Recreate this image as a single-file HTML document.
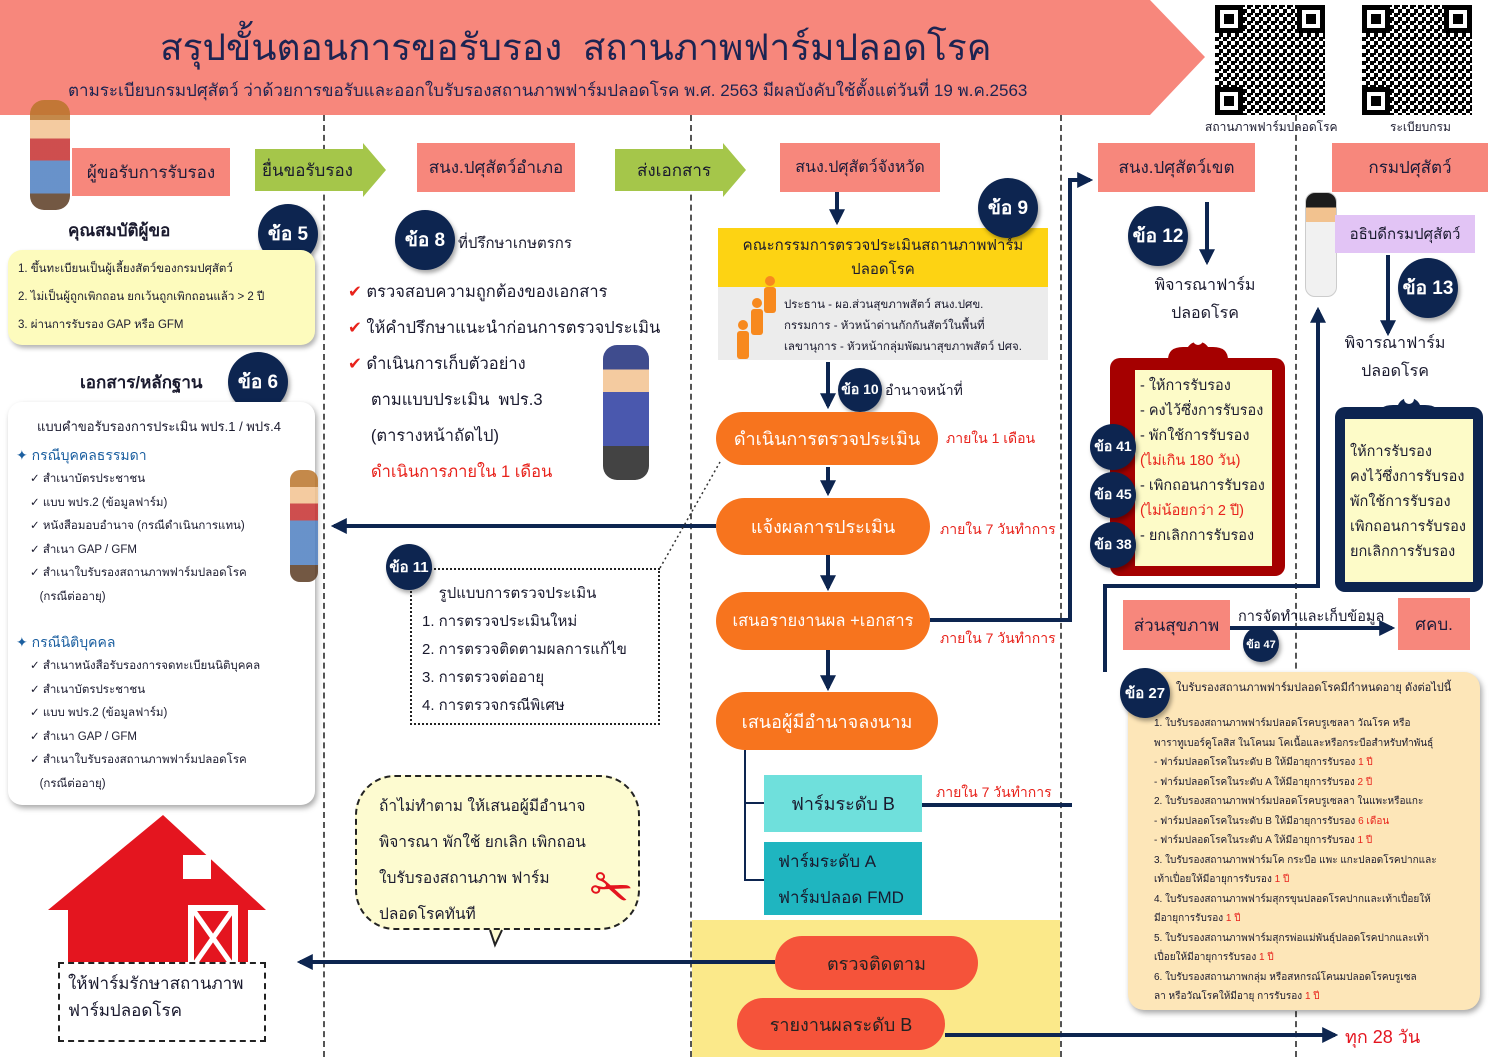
<!DOCTYPE html>
<html><head><meta charset="utf-8">
<style>
*{margin:0;padding:0;box-sizing:border-box}
body{width:1500px;height:1057px;position:relative;overflow:hidden;background:#fff;font-family:"Liberation Sans","DejaVu Sans",sans-serif;color:#1a1a2e}
.a{position:absolute;white-space:nowrap}
.c{display:flex;align-items:center;justify-content:center;text-align:center}
.sal{background:#f7877c;color:#1c1c3a;font-size:17px}
.circ{position:absolute;border-radius:50%;background:#0d2550;color:#fff;font-weight:bold;display:flex;align-items:center;justify-content:center;box-shadow:2px 3px 4px rgba(0,0,0,.35);white-space:nowrap}
.pill{position:absolute;border-radius:30px;background:#f7741e;color:#fff;font-size:18px;display:flex;align-items:center;justify-content:center;white-space:nowrap}
.red{color:#e8231c}
.vd{position:absolute;top:115px;height:942px;border-left:2px dashed #555}
.sm{font-size:11.5px;line-height:23.5px}
</style></head><body>
<svg class="a" style="left:0;top:0" width="1500" height="1057">
<polygon points="0,0 1150,0 1205,57 1150,115 0,115" fill="#f7877c"/>
</svg>
<div class="a" style="left:160px;top:18px;font-size:37px;color:#1c2452">สรุปขั้นตอนการขอรับรอง&nbsp; สถานภาพฟาร์มปลอดโรค</div>
<div class="a" style="left:68px;top:77px;font-size:17px;color:#1c2452">ตามระเบียบกรมปศุสัตว์ ว่าด้วยการขอรับและออกใบรับรองสถานภาพฟาร์มปลอดโรค พ.ศ. 2563 มีผลบังคับใช้ตั้งแต่วันที่ 19 พ.ค.2563</div>
<svg class="a" style="left:1215px;top:5px" width="110" height="110"><defs><pattern id="q" width="8" height="8" patternUnits="userSpaceOnUse"><rect width="8" height="8" fill="#fff"/><rect width="4" height="4" fill="#000"/><rect x="4" y="4" width="4" height="4" fill="#000"/><rect x="4" y="0" width="2" height="2" fill="#000"/></pattern></defs><rect width="110" height="110" fill="url(#q)"/><g fill="#000"><rect x="0" y="0" width="28" height="28"/><rect x="82" y="0" width="28" height="28"/><rect x="0" y="82" width="28" height="28"/></g><g fill="#fff"><rect x="5" y="5" width="18" height="18"/><rect x="87" y="5" width="18" height="18"/><rect x="5" y="87" width="18" height="18"/></g><g fill="#000"><rect x="9" y="9" width="10" height="10"/><rect x="91" y="9" width="10" height="10"/><rect x="9" y="91" width="10" height="10"/></g></svg>
<svg class="a" style="left:1362px;top:5px" width="110" height="110"><rect width="110" height="110" fill="url(#q)"/><g fill="#000"><rect x="0" y="0" width="28" height="28"/><rect x="82" y="0" width="28" height="28"/><rect x="0" y="82" width="28" height="28"/></g><g fill="#fff"><rect x="5" y="5" width="18" height="18"/><rect x="87" y="5" width="18" height="18"/><rect x="5" y="87" width="18" height="18"/></g><g fill="#000"><rect x="9" y="9" width="10" height="10"/><rect x="91" y="9" width="10" height="10"/><rect x="9" y="91" width="10" height="10"/></g></svg>
<div class="a" style="left:1205px;top:118px;font-size:12px">สถานภาพฟาร์มปลอดโรค</div>
<div class="a" style="left:1390px;top:118px;font-size:12px">ระเบียบกรม</div>

<div class="vd" style="left:323px"></div><div class="vd" style="left:690px"></div><div class="vd" style="left:1060px"></div><div class="vd" style="left:1295px"></div>

<div class="a c sal" style="left:72px;top:148px;width:158px;height:48px">ผู้ขอรับการรับรอง</div>
<svg class="a" style="left:255px;top:143px" width="132" height="54"><polygon points="0,6 108,6 108,0 131,27 108,54 108,48 0,48" fill="#a5c64a"/></svg>
<div class="a" style="left:262px;top:157px;font-size:17px">ยื่นขอรับรอง</div>
<div class="a c sal" style="left:417px;top:143px;width:158px;height:49px">สนง.ปศุสัตว์อำเภอ</div>
<svg class="a" style="left:615px;top:143px" width="132" height="54"><polygon points="0,6 108,6 108,0 131,27 108,54 108,48 0,48" fill="#a5c64a"/></svg>
<div class="a" style="left:637px;top:157px;font-size:17px">ส่งเอกสาร</div>
<div class="a c sal" style="left:780px;top:143px;width:160px;height:49px;font-size:16px">สนง.ปศุสัตว์จังหวัด</div>
<div class="a c sal" style="left:1098px;top:143px;width:157px;height:49px">สนง.ปศุสัตว์เขต</div>
<div class="a c sal" style="left:1332px;top:143px;width:156px;height:49px">กรมปศุสัตว์</div>

<div class="a" style="left:30px;top:100px;width:40px;height:110px;background:linear-gradient(#b9742a 0 18%,#f2c28f 18% 35%,#c62f2f 35% 55%,#4e7fc1 55% 85%,#5a3a22 85%);border-radius:14px;opacity:.85"></div>

<div class="a" style="left:68px;top:217px;font-size:17px;font-weight:bold">คุณสมบัติผู้ขอ</div>
<div class="circ" style="left:258px;top:204px;width:60px;height:60px;font-size:19px">ข้อ 5</div>
<div class="a" style="left:8px;top:250px;width:307px;height:95px;background:#fdfbbd;border-radius:14px;box-shadow:2px 3px 5px rgba(0,0,0,.3);padding:5px 10px;font-size:11.5px;line-height:28px">1. ขึ้นทะเบียนเป็นผู้เลี้ยงสัตว์ของกรมปศุสัตว์<br>2. ไม่เป็นผู้ถูกเพิกถอน ยกเว้นถูกเพิกถอนแล้ว &gt; 2 ปี<br>3. ผ่านการรับรอง GAP หรือ GFM</div>
<div class="a" style="left:80px;top:369px;font-size:17px;font-weight:bold">เอกสาร/หลักฐาน</div>
<div class="circ" style="left:228px;top:352px;width:60px;height:60px;font-size:19px">ข้อ 6</div>
<div class="a" style="left:8px;top:402px;width:307px;height:403px;background:#fff;border-radius:14px;box-shadow:2px 3px 6px rgba(0,0,0,.35)"></div>
<div class="a" style="left:37px;top:416px;font-size:13px">แบบคำขอรับรองการประเมิน พปร.1 / พปร.4</div>
<div class="a" style="left:16px;top:445px;font-size:14px;color:#1b5fa0">✦ กรณีบุคคลธรรมดา</div>
<div class="a sm" style="left:30px;top:468px">✓ สำเนาบัตรประชาชน<br>✓ แบบ พปร.2 (ข้อมูลฟาร์ม)<br>✓ หนังสือมอบอำนาจ (กรณีดำเนินการแทน)<br>✓ สำเนา GAP / GFM<br>✓ สำเนาใบรับรองสถานภาพฟาร์มปลอดโรค<br>&nbsp;&nbsp;&nbsp;(กรณีต่ออายุ)</div>
<div class="a" style="left:16px;top:632px;font-size:14px;color:#1b5fa0">✦ กรณีนิติบุคคล</div>
<div class="a sm" style="left:30px;top:655px">✓ สำเนาหนังสือรับรองการจดทะเบียนนิติบุคคล<br>✓ สำเนาบัตรประชาชน<br>✓ แบบ พปร.2 (ข้อมูลฟาร์ม)<br>✓ สำเนา GAP / GFM<br>✓ สำเนาใบรับรองสถานภาพฟาร์มปลอดโรค<br>&nbsp;&nbsp;&nbsp;(กรณีต่ออายุ)</div>
<div class="a" style="left:290px;top:470px;width:28px;height:112px;background:linear-gradient(#b9742a 0 15%,#f2c28f 15% 30%,#c62f2f 30% 45%,#4e7fc1 45% 85%,#5a3a22 85%);border-radius:10px;opacity:.85"></div>

<svg class="a" style="left:48px;top:815px" width="220" height="150"><polygon points="0,95 115,0 218,95 200,95 200,150 20,150 20,95" fill="#e4151f"/><rect x="135" y="40" width="28" height="24" fill="#fff"/><rect x="140" y="90" width="50" height="60" fill="#fff"/><rect x="146" y="96" width="38" height="54" fill="#e4151f"/><path d="M146,96L184,150M184,96L146,150" stroke="#fff" stroke-width="5"/></svg>
<div class="a" style="left:58px;top:962px;width:208px;height:80px;border:2px dashed #222;background:#fff;padding:6px 8px;font-size:17px;line-height:27px">ให้ฟาร์มรักษาสถานภาพ<br>ฟาร์มปลอดโรค</div>

<div class="circ" style="left:395px;top:210px;width:60px;height:60px;font-size:19px">ข้อ 8</div>
<div class="a" style="left:458px;top:231px;font-size:15px">ที่ปรึกษาเกษตรกร</div>
<div class="a" style="left:348px;top:274px;font-size:16.5px;line-height:36px"><span class="red">✔</span> ตรวจสอบความถูกต้องของเอกสาร<br><span class="red">✔</span> ให้คำปรึกษาแนะนำก่อนการตรวจประเมิน<br><span class="red">✔</span> ดำเนินการเก็บตัวอย่าง<br>&nbsp;&nbsp;&nbsp;&nbsp;&nbsp;ตามแบบประเมิน&nbsp; พปร.3<br>&nbsp;&nbsp;&nbsp;&nbsp;&nbsp;(ตารางหน้าถัดไป)<br>&nbsp;&nbsp;&nbsp;&nbsp;&nbsp;<span class="red">ดำเนินการภายใน 1 เดือน</span></div>
<div class="a" style="left:603px;top:345px;width:46px;height:135px;background:linear-gradient(#1d2c7a 0 18%,#f2c28f 18% 35%,#2a3aa0 35% 75%,#222 75%);border-radius:14px;opacity:.85"></div>
<div class="a" style="left:410px;top:568px;width:250px;height:157px;border:2px dotted #222;padding:10px 10px;font-size:15px;line-height:28px">&nbsp;&nbsp;&nbsp;&nbsp;รูปแบบการตรวจประเมิน<br>1. การตรวจประเมินใหม่<br>2. การตรวจติดตามผลการแก้ไข<br>3. การตรวจต่ออายุ<br>4. การตรวจกรณีพิเศษ</div>
<div class="circ" style="left:386px;top:544px;width:46px;height:46px;font-size:15px">ข้อ 11</div>
<div class="a" style="left:355px;top:775px;width:285px;height:155px;border:2px dashed #222;border-radius:40px;background:#fdfbd0;padding:12px 22px;font-size:15.5px;line-height:36px">ถ้าไม่ทำตาม ให้เสนอผู้มีอำนาจ<br>พิจารณา พักใช้ ยกเลิก เพิกถอน<br>ใบรับรองสถานภาพ ฟาร์ม<br>ปลอดโรคทันที</div>
<div class="a" style="left:590px;top:860px;font-size:50px;color:#e4151f;transform:rotate(20deg)">✂</div>

<div class="a c" style="left:718px;top:228px;width:330px;height:59px;background:#fdd313;font-size:15px;line-height:24px">คณะกรรมการตรวจประเมินสถานภาพฟาร์ม<br>ปลอดโรค</div>
<div class="a" style="left:718px;top:287px;width:330px;height:73px;background:#ececec;font-size:11.5px;line-height:21px;padding:8px 0 0 66px">ประธาน - ผอ.ส่วนสุขภาพสัตว์ สนง.ปศข.<br>กรรมการ - หัวหน้าด่านกักกันสัตว์ในพื้นที่<br>เลขานุการ - หัวหน้ากลุ่มพัฒนาสุขภาพสัตว์ ปศจ.</div>
<svg class="a" style="left:730px;top:275px" width="50" height="85"><g fill="#f7891e"><circle cx="40" cy="6" r="5"/><rect x="34" y="12" width="12" height="26" rx="3"/><circle cx="27" cy="28" r="5"/><rect x="21" y="34" width="12" height="26" rx="3"/><circle cx="13" cy="50" r="5"/><rect x="7" y="56" width="12" height="28" rx="3"/></g></svg>
<div class="circ" style="left:978px;top:178px;width:60px;height:60px;font-size:19px">ข้อ 9</div>
<div class="circ" style="left:838px;top:368px;width:44px;height:44px;font-size:14px">ข้อ 10</div>
<div class="a" style="left:885px;top:380px;font-size:14px">อำนาจหน้าที่</div>
<div class="pill" style="left:716px;top:412px;width:222px;height:53px">ดำเนินการตรวจประเมิน</div>
<div class="a red" style="left:946px;top:428px;font-size:14px">ภายใน 1 เดือน</div>
<div class="pill" style="left:716px;top:498px;width:214px;height:57px">แจ้งผลการประเมิน</div>
<div class="a red" style="left:940px;top:519px;font-size:14px">ภายใน 7 วันทำการ</div>
<div class="pill" style="left:716px;top:592px;width:214px;height:58px;font-size:16.5px">เสนอรายงานผล +เอกสาร</div>
<div class="a red" style="left:940px;top:628px;font-size:14px">ภายใน 7 วันทำการ</div>
<div class="pill" style="left:716px;top:692px;width:222px;height:58px">เสนอผู้มีอำนาจลงนาม</div>
<div class="a red" style="left:936px;top:782px;font-size:14px">ภายใน 7 วันทำการ</div>
<div class="a c" style="left:764px;top:775px;width:158px;height:57px;background:#6fe0dc;font-size:18px">ฟาร์มระดับ B</div>
<div class="a" style="left:764px;top:842px;width:158px;height:73px;background:#1fb5c0;font-size:17px;line-height:36px;padding:2px 14px">ฟาร์มระดับ A<br>ฟาร์มปลอด FMD</div>
<div class="a" style="left:692px;top:920px;width:368px;height:137px;background:#fbe98a"></div>
<div class="pill" style="left:775px;top:936px;width:203px;height:54px;background:#f5533a;color:#222">ตรวจติดตาม</div>
<div class="pill" style="left:737px;top:998px;width:208px;height:52px;background:#f5533a;color:#222">รายงานผลระดับ B</div>
<div class="a" style="left:1345px;top:1022px;font-size:18px;color:#e4151f">ทุก 28 วัน</div>

<div class="circ" style="left:1128px;top:206px;width:60px;height:60px;font-size:19px">ข้อ 12</div>
<div class="a c" style="left:1130px;top:272px;width:150px;font-size:16px;line-height:28px">พิจารณาฟาร์ม<br>ปลอดโรค</div>
<svg class="a" style="left:1108px;top:322px" width="180" height="256"><path d="M60,38 Q60,25 75,25 L80,25 A12,12 0 0 1 100,25 L105,25 Q120,25 120,38 Z" fill="#a50000"/><rect x="2" y="36" width="175" height="218" rx="10" fill="#a50000"/><circle cx="90" cy="18" r="5" fill="#fff"/><rect x="27" y="48" width="137" height="196" fill="#fdfbc8"/></svg>
<div class="a" style="left:1140px;top:374px;font-size:14.5px;line-height:25px">- ให้การรับรอง<br>- คงไว้ซึ่งการรับรอง<br>- พักใช้การรับรอง<br><span class="red">(ไม่เกิน 180 วัน)</span><br>- เพิกถอนการรับรอง<br><span class="red">(ไม่น้อยกว่า 2 ปี)</span><br>- ยกเลิกการรับรอง</div>
<div class="circ" style="left:1090px;top:424px;width:46px;height:46px;font-size:14px">ข้อ 41</div>
<div class="circ" style="left:1090px;top:472px;width:46px;height:46px;font-size:14px">ข้อ 45</div>
<div class="circ" style="left:1090px;top:522px;width:46px;height:46px;font-size:14px">ข้อ 38</div>

<div class="a" style="left:1305px;top:192px;width:32px;height:105px;background:linear-gradient(#1c1c1c 0 14%,#f2c28f 14% 28%,#f1f1f1 28%);border-radius:10px;border:1px solid #ccc"></div>
<div class="a c" style="left:1335px;top:215px;width:140px;height:38px;background:#e2c4f5;font-size:15px">อธิบดีกรมปศุสัตว์</div>
<div class="circ" style="left:1398px;top:258px;width:60px;height:60px;font-size:19px">ข้อ 13</div>
<div class="a c" style="left:1320px;top:330px;width:150px;font-size:16px;line-height:28px">พิจารณาฟาร์ม<br>ปลอดโรค</div>
<svg class="a" style="left:1333px;top:385px" width="152" height="210"><path d="M45,32 Q45,20 60,20 L65,20 A12,12 0 0 1 87,20 L92,20 Q107,20 107,32 Z" fill="#0d2550"/><rect x="2" y="22" width="148" height="185" rx="10" fill="#0d2550"/><circle cx="76" cy="14" r="5" fill="#fff"/><rect x="12" y="34" width="128" height="163" fill="#fdfbc8"/></svg>
<div class="a" style="left:1350px;top:440px;font-size:14.5px;line-height:25px">ให้การรับรอง<br>คงไว้ซึ่งการรับรอง<br>พักใช้การรับรอง<br>เพิกถอนการรับรอง<br>ยกเลิกการรับรอง</div>

<div class="a c sal" style="left:1123px;top:600px;width:107px;height:50px">ส่วนสุขภาพ</div>
<div class="a" style="left:1238px;top:605px;font-size:14.5px">การจัดทำและเก็บข้อมูล</div>
<div class="a c sal" style="left:1398px;top:598px;width:72px;height:52px">ศคบ.</div>
<div class="circ" style="left:1243px;top:626px;width:36px;height:36px;font-size:11px">ข้อ 47</div>

<div class="a" style="left:1128px;top:672px;width:352px;height:338px;background:#fde6b8;border-radius:16px;box-shadow:2px 3px 6px rgba(0,0,0,.35);padding:42px 8px 0 26px;font-size:10px;line-height:19.5px;overflow:hidden">1. ใบรับรองสถานภาพฟาร์มปลอดโรคบรูเซลลา วัณโรค หรือ<br>พาราทูเบอร์คูโลสิส ในโคนม โคเนื้อและหรือกระบือสำหรับทำพันธุ์<br>- ฟาร์มปลอดโรคในระดับ B ให้มีอายุการรับรอง <span class="red">1 ปี</span><br>- ฟาร์มปลอดโรคในระดับ A ให้มีอายุการรับรอง <span class="red">2 ปี</span><br>2. ใบรับรองสถานภาพฟาร์มปลอดโรคบรูเซลลา ในแพะหรือแกะ<br>- ฟาร์มปลอดโรคในระดับ B ให้มีอายุการรับรอง <span class="red">6 เดือน</span><br>- ฟาร์มปลอดโรคในระดับ A ให้มีอายุการรับรอง <span class="red">1 ปี</span><br>3. ใบรับรองสถานภาพฟาร์มโค กระบือ แพะ แกะปลอดโรคปากและ<br>เท้าเปื่อยให้มีอายุการรับรอง <span class="red">1 ปี</span><br>4. ใบรับรองสถานภาพฟาร์มสุกรขุนปลอดโรคปากและเท้าเปื่อยให้<br>มีอายุการรับรอง <span class="red">1 ปี</span><br>5. ใบรับรองสถานภาพฟาร์มสุกรพ่อแม่พันธุ์ปลอดโรคปากและเท้า<br>เปื่อยให้มีอายุการรับรอง <span class="red">1 ปี</span><br>6. ใบรับรองสถานภาพกลุ่ม หรือสหกรณ์โคนมปลอดโรคบรูเซล<br>ลา หรือวัณโรคให้มีอายุ การรับรอง <span class="red">1 ปี</span></div>
<div class="a" style="left:1176px;top:678px;font-size:11px">ใบรับรองสถานภาพฟาร์มปลอดโรคมีกำหนดอายุ ดังต่อไปนี้</div>
<div class="circ" style="left:1120px;top:668px;width:50px;height:50px;font-size:15px">ข้อ 27</div>

<svg class="a" style="left:0;top:0;pointer-events:none" width="1500" height="1057">
<defs><marker id="M" viewBox="0 0 10 10" markerWidth="16" markerHeight="16" refX="8" refY="5" orient="auto" markerUnits="userSpaceOnUse"><path d="M0,0L10,5L0,10Z" fill="#0d2550"/></marker></defs>
<g stroke="#0d2550" stroke-width="4" fill="none">
<line x1="837" y1="192" x2="837" y2="222" marker-end="url(#M)"/>
<line x1="828" y1="362" x2="828" y2="406" marker-end="url(#M)"/>
<line x1="828" y1="467" x2="828" y2="493" marker-end="url(#M)"/>
<line x1="828" y1="555" x2="828" y2="588" marker-end="url(#M)"/>
<line x1="828" y1="650" x2="828" y2="688" marker-end="url(#M)"/>
<line x1="716" y1="526" x2="334" y2="526" marker-end="url(#M)"/>
<polyline points="930,620 1070,620 1070,180 1090,180" marker-end="url(#M)"/>
<polyline points="922,805 1072,805"/>
<line x1="1207" y1="202" x2="1207" y2="262" marker-end="url(#M)"/>
<line x1="1388" y1="255" x2="1388" y2="333" marker-end="url(#M)"/>
<polyline points="1105,672 1105,586 1318,586 1318,310" marker-end="url(#M)"/>
<line x1="1230" y1="628" x2="1392" y2="628" marker-end="url(#M)"/>
<line x1="775" y1="962" x2="300" y2="962" marker-end="url(#M)"/>
<line x1="945" y1="1035" x2="1335" y2="1035" marker-end="url(#M)"/>
</g>
<g stroke="#0d2550" stroke-width="2" fill="none">
<polyline points="745,750 745,880 764,880"/><line x1="745" y1="803" x2="764" y2="803"/>
</g>
<polyline points="660,568 720,462" stroke="#333" stroke-width="1.5" stroke-dasharray="2,3" fill="none"/>
<polyline points="490,930 495,945 502,930" fill="#fdfbd0" stroke="#222" stroke-width="2"/>
</svg>
</body></html>
